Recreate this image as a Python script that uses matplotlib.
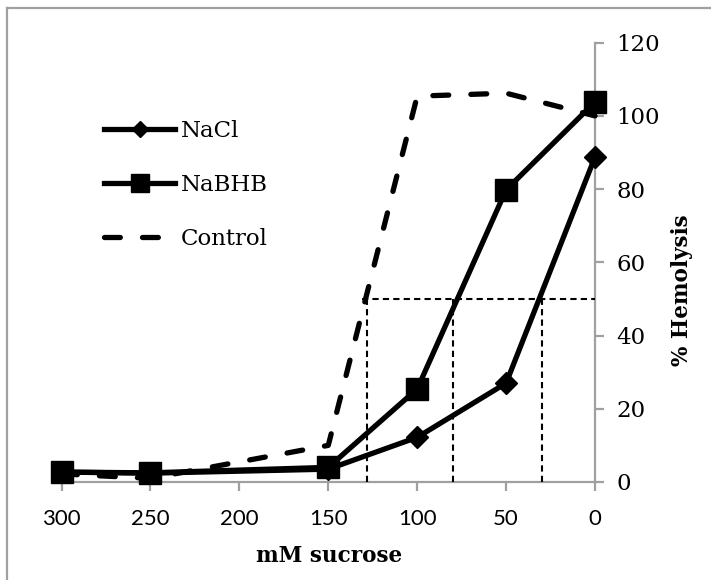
import matplotlib
matplotlib.use("Agg")
import matplotlib.pyplot as plt
from matplotlib.lines import Line2D

# Hemolysis (%) vs sucrose concentration (mM)
sucrose = [300, 250, 150, 100, 50, 0]
nacl = [2.7, 2.4, 3.5, 12.2, 27.0, 88.8]
nabhb = [2.7, 2.5, 4.0, 25.4, 79.8, 103.8]
control = [2.2, 1.0, 10.0, 105.4, 106.2, 100.0]

# 50 % hemolysis guide: level, where it starts, and the drop points
half_level = 50
half_start = 131
half_drops = [128, 80, 30]

xticks = [300, 250, 200, 150, 100, 50, 0]
yticks = [0, 20, 40, 60, 80, 100, 120]

GRAY = "#a0a0a0"
SERIF = "DejaVu Serif"
SANS = "Lato"

fig = plt.figure(figsize=(7.11, 5.8), dpi=100)
ax = fig.add_axes([0.0865, 0.169, 0.7504, 0.7574])

# outer chart-area frame: only its top and left edges fall inside the image
fx, fy = 6.5 / 711, 572.5 / 580
fig.add_artist(Line2D([fx, 1.0], [fy, fy], transform=fig.transFigure,
                      color=GRAY, lw=1.6))
fig.add_artist(Line2D([fx, fx], [0.0, fy], transform=fig.transFigure,
                      color=GRAY, lw=1.6))

ax.plot(sucrose, nacl, color="black", lw=3.8, marker="D", ms=11,
        label="NaCl", zorder=4, clip_on=False, solid_joinstyle="round")
ax.plot(sucrose, nabhb, color="black", lw=3.8, marker="s", ms=16,
        label="NaBHB", zorder=4.1, clip_on=False, solid_joinstyle="round")
ax.plot(sucrose, control, color="black", lw=3.8, linestyle=(0, (3.0, 4.2)),
        dash_capstyle="round", label="Control", zorder=3, clip_on=False)

# thin dashed guides at 50 % hemolysis
ax.hlines(half_level, half_start, 0, color="black", lw=1.5,
          linestyle=(0, (3, 2)), zorder=2.6)
ax.vlines(half_drops, 0, half_level, color="black", lw=1.5,
          linestyle=(0, (3, 2)), zorder=2.6)

ax.set_xlim(300, 0)
ax.set_ylim(0, 120)
ax.set_xticks(xticks)
ax.set_yticks(yticks)

ax.yaxis.tick_right()
ax.yaxis.set_label_position("right")
for side in ("top", "left"):
    ax.spines[side].set_visible(False)
for side in ("bottom", "right"):
    ax.spines[side].set_color(GRAY)
    ax.spines[side].set_linewidth(1.6)
    ax.spines[side].set_zorder(2.5)

ax.tick_params(axis="x", direction="out", length=6.5, width=1.6,
               color=GRAY, pad=13)
ax.tick_params(axis="y", direction="out", length=6.5, width=1.6,
               color=GRAY, pad=9)
for lab in ax.get_xticklabels():
    lab.set_fontfamily(SANS)
    lab.set_fontsize(16)
for lab in ax.get_yticklabels():
    lab.set_fontfamily(SERIF)
    lab.set_fontsize(16.5)

ax.set_xlabel("mM sucrose", fontfamily=SERIF, fontweight="bold", fontsize=15.5)
ax.xaxis.set_label_coords(0.502, -0.143)
ax.set_ylabel("% Hemolysis", fontfamily=SERIF, fontweight="bold", fontsize=15.5)
ax.yaxis.set_label_coords(1.143, 0.437)

leg = ax.legend(loc="center left", bbox_to_anchor=(0.0797, 0.676),
                frameon=False, borderpad=0, borderaxespad=0,
                handlelength=3.1, handletextpad=0.25, labelspacing=1.4,
                markerscale=0.78, prop={"family": SERIF, "size": 16.5})

fig.savefig("out.png", dpi=100)
